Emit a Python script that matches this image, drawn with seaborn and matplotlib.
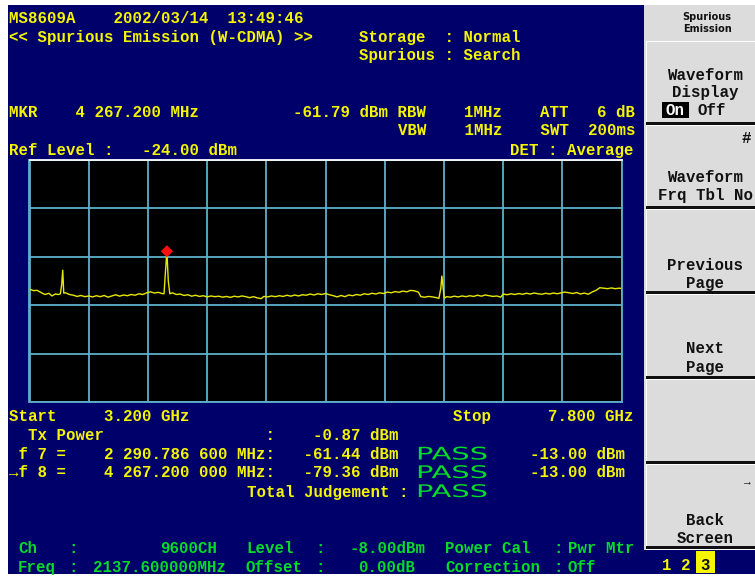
import matplotlib
matplotlib.use("Agg")
import matplotlib.pyplot as plt
import matplotlib.patches as mpatches
from matplotlib.textpath import TextPath
from matplotlib.font_manager import FontProperties
from matplotlib.transforms import Affine2D
import seaborn as sns

# ---- sweep settings ----
start_mhz = 3200.0
stop_mhz = 7800.0
ref_level = -24.0
db_per_div = 20.0
n_xdiv = 10
n_ydiv = 5

# ---- measured trace (MHz, dBm) ----
freq_mhz = [
    3200, 3230, 3260, 3290, 3320, 3350, 3375, 3400, 3425, 3440, 3450, 3458, 3466,
    3480, 3510, 3540, 3570, 3600, 3630, 3660, 3690, 3720, 3750, 3780, 3810, 3840,
    3870, 3900, 3930, 3960, 3990, 4020, 4050, 4080, 4110, 4140, 4170, 4200, 4230,
    4245, 4255, 4267.2, 4278, 4290, 4310, 4340, 4370, 4400, 4430, 4460, 4490, 4520,
    4550, 4580, 4610, 4640, 4670, 4700, 4730, 4760, 4790, 4820, 4850, 4880, 4910,
    4940, 4970, 5000, 5020, 5050, 5080, 5110, 5140, 5170, 5200, 5230, 5260, 5290,
    5320, 5350, 5380, 5410, 5440, 5470, 5500, 5530, 5560, 5590, 5620, 5650, 5680,
    5710, 5740, 5770, 5800, 5830, 5860, 5890, 5920, 5950, 5980, 6010, 6040, 6070,
    6100, 6130, 6160, 6190, 6220, 6240, 6270, 6300, 6330, 6360, 6380, 6395, 6403,
    6412, 6422, 6440, 6470, 6500, 6530, 6560, 6590, 6620, 6650, 6680, 6710, 6740,
    6770, 6800, 6830, 6860, 6880, 6910, 6940, 6970, 7000, 7030, 7060, 7090, 7120,
    7150, 7180, 7210, 7240, 7270, 7300, 7330, 7360, 7390, 7420, 7450, 7480, 7510,
    7540, 7570, 7600, 7630, 7660, 7690, 7720, 7750, 7780, 7800,
]
level_dbm = [
    -77.4, -78.0, -77.9, -78.8, -79.6, -79.1, -80.2, -79.4, -79.6, -79.3, -75.5, -69.6, -79.0,
    -78.9, -79.6, -79.9, -80.4, -80.0, -80.5, -80.2, -80.6, -80.1, -80.5, -80.0, -80.7, -80.2,
    -79.7, -80.3, -79.8, -80.1, -79.6, -79.9, -79.3, -79.6, -78.9, -78.5, -79.0, -78.7, -79.2,
    -79.3, -71.0, -61.79, -74.0, -79.3, -78.9, -79.6, -79.4, -80.0, -79.7, -80.3, -79.9, -80.4,
    -80.1, -80.6, -80.2, -80.5, -80.3, -80.7, -80.4, -80.8, -80.3, -80.6, -80.2, -80.5, -80.9,
    -80.5, -81.0, -81.3, -80.4, -80.6, -80.2, -80.5, -80.1, -80.4, -79.9, -80.3, -79.8, -80.2,
    -79.7, -79.9, -79.4, -79.8, -79.3, -79.6, -79.2, -79.7, -80.1, -80.6, -80.0, -80.5, -79.8,
    -80.1, -79.6, -79.9, -79.3, -79.6, -79.1, -79.4, -78.9, -79.2, -78.6, -78.9, -78.4, -78.7,
    -78.2, -78.5, -77.9, -78.1, -78.6, -80.5, -80.7, -80.4, -80.6, -80.9, -81.2, -77.0, -72.0,
    -76.2, -81.1, -80.5, -80.7, -80.3, -80.6, -80.2, -80.5, -80.1, -80.4, -79.9, -80.3, -79.8,
    -80.1, -80.4, -80.2, -80.7, -79.4, -79.7, -79.3, -79.6, -79.2, -79.5, -79.1, -79.4, -79.0,
    -79.3, -79.5, -79.1, -79.4, -79.0, -79.3, -78.9, -78.6, -78.9, -79.2, -78.8, -79.4, -79.0,
    -79.5, -78.6, -77.9, -76.8, -77.0, -77.2, -76.9, -77.2, -77.0, -77.1,
]
marker_mhz = 4267.2
marker_dbm = -61.79

NAVY = "#00006b"
YELLOW = "#f5f500"
GREEN = "#00dc28"
PANEL = "#dcdcdc"
GRID = "#5fb0cc"
TRACE = "#e8e800"

W, H = 755, 577
fig = plt.figure(figsize=(W / 100, H / 100), dpi=100)
fig.patch.set_facecolor("white")

# full-figure layer in pixel coordinates (y downward)
bg = fig.add_axes([0, 0, 1, 1], zorder=0)
bg.set_xlim(0, W)
bg.set_ylim(H, 0)
bg.axis("off")

def rect(x0, y0, x1, y1, color, z=1):
    bg.add_patch(mpatches.Rectangle((x0, y0), x1 - x0, y1 - y0, facecolor=color,
                                    edgecolor="none", zorder=z))

rect(8, 5, W, 574, NAVY)

# soft-key panel
rect(644, 5, W, 550, PANEL, 2)
bounds = [40, 124, 208, 293, 378, 463, 548]
for i, b in enumerate(bounds):
    if i > 0:
        rect(646, b - 2, W, b + 0.5, "#101010", 3)
    rect(646, b + 0.5, W, b + 1.5, "white", 3)
for b0, b1 in zip(bounds[:-1], bounds[1:]):
    rect(646, b0 + 0.5, 647, b1 - 2, "white", 3)

MONO = ["Liberation Mono", "DejaVu Sans Mono"]
FS = 11.3

def T(x, y, s, color=YELLOW, ha="left", size=FS, z=5, weight="bold", family=MONO):
    bg.text(x, y, s, color=color, ha=ha, va="baseline", fontsize=size,
            family=family, fontweight=weight, zorder=z)

# header lines
T(9, 23.3, "MS8609A    2002/03/14  13:49:46")
T(9, 42, "<< Spurious Emission (W-CDMA) >>")
T(359, 42, "Storage  : Normal")
T(359, 60, "Spurious : Search")
T(9, 117, "MKR    4 267.200 MHz")
T(293, 117, "-61.79 dBm RBW    1MHz    ATT   6 dB")
T(398, 135, "VBW    1MHz    SWT  200ms")
T(9, 155, "Ref Level :   -24.00 dBm")
T(634, 155, "DET : Average", ha="right")

# lower readout
T(9, 421, "Start     3.200 GHz")
T(453, 421, "Stop      7.800 GHz")
T(9, 440, "  Tx Power                 :    -0.87 dBm")
T(9, 459, " f 7 =    2 290.786 600 MHz:   -61.44 dBm")
T(9, 477, "\u2192f 8 =    4 267.200 000 MHz:   -79.36 dBm")
T(530, 459, "-13.00 dBm")
T(530, 477, "-13.00 dBm")
T(247, 496.5, "Total Judgement :")

pass_font = FontProperties(family="DejaVu Sans")

def wide_text(x, baseline, s, color, em=17.4, sx=1.66):
    tp = TextPath((0, 0), s, size=em, prop=pass_font)
    path = Affine2D().scale(sx, -1).translate(x, baseline).transform_path(tp)
    bg.add_patch(mpatches.PathPatch(path, facecolor=color, edgecolor="none", zorder=5))

for yb in (459.5, 478, 497):
    wide_text(416, yb, "PASS", GREEN)

# channel settings (green)
for x, y, s, ha in [
    (18, 553, "Ch", "left"), (68, 553, ":", "left"), (217, 553, "9600CH", "right"),
    (246, 553, "Level", "left"), (315, 553, ":", "left"), (425, 553, "-8.00dBm", "right"),
    (445, 553, "Power Cal", "left"), (553, 553, ":", "left"), (568, 553, "Pwr Mtr", "left"),
    (18, 572, "Freq", "left"), (68, 572, ":", "left"), (226, 572, "2137.600000MHz", "right"),
    (246, 572, "Offset", "left"), (315, 572, ":", "left"), (415, 572, "0.00dB", "right"),
    (445, 572, "Correction", "left"), (553, 572, ":", "left"), (568, 572, "Off", "left"),
]:
    T(x, y, s, color=GREEN, ha=ha)

# soft-key labels
BLK = "#111111"
T(707, 20, "Spurious", color=BLK, ha="center", size=7, family=["DejaVu Sans"])
T(707, 32, "Emission", color=BLK, ha="center", size=7, family=["DejaVu Sans"])
T(705, 80, "Waveform", color=BLK, ha="center")
T(705, 97, "Display", color=BLK, ha="center")
rect(662, 102, 689, 118, "black", 4)
T(665, 115, "On", color="white")
T(698, 115, "Off", color=BLK)
T(751, 143, "#", color=BLK, ha="right")
T(705, 182, "Waveform", color=BLK, ha="center")
T(705, 200, "Frq Tbl No", color=BLK, ha="center")
T(705, 270, "Previous", color=BLK, ha="center")
T(705, 288, "Page", color=BLK, ha="center")
T(705, 353, "Next", color=BLK, ha="center")
T(705, 372, "Page", color=BLK, ha="center")
T(751, 484, "\u2192", color=BLK, ha="right", size=8, weight="normal")
T(705, 525, "Back", color=BLK, ha="center")
T(705, 543, "Screen", color=BLK, ha="center")

# screen page indicator
rect(646, 551, W, 573, NAVY, 3)
rect(696, 551, 715, 573, "#f5f500", 4)
T(667, 570, "1", ha="center")
T(686, 570, "2", ha="center")
T(705.5, 570, "3", color=BLK, ha="center")

# ---- spectrum graticule ----
x0, x1, y0, y1 = 29.5, 621.7, 159.5, 402.3
ax = fig.add_axes([x0 / W, 1 - y1 / H, (x1 - x0) / W, (y1 - y0) / H], zorder=2)
ax.set_facecolor("black")
bottom_level = ref_level - db_per_div * n_ydiv
ax.set_xlim(start_mhz, stop_mhz)
ax.set_ylim(bottom_level, ref_level)
xstep = (stop_mhz - start_mhz) / n_xdiv
ax.set_xticks([start_mhz + xstep * k for k in range(n_xdiv + 1)])
ax.set_yticks([bottom_level + db_per_div * k for k in range(n_ydiv + 1)])
ax.grid(True, color=GRID, lw=1.3)
ax.tick_params(length=0, labelbottom=False, labelleft=False)
for name, sp in ax.spines.items():
    sp.set_color("white" if name == "top" else GRID)
    sp.set_linewidth(1.3)

sns.lineplot(x=freq_mhz, y=level_dbm, ax=ax, color=TRACE, lw=1.0, errorbar=None)
sns.scatterplot(x=[marker_mhz], y=[marker_dbm], ax=ax, marker="D", color="#ff1010",
                s=38, edgecolor="none", zorder=5)
ax.set_xlabel("")
ax.set_ylabel("")

fig.savefig("out.png", dpi=100, facecolor=fig.get_facecolor())
